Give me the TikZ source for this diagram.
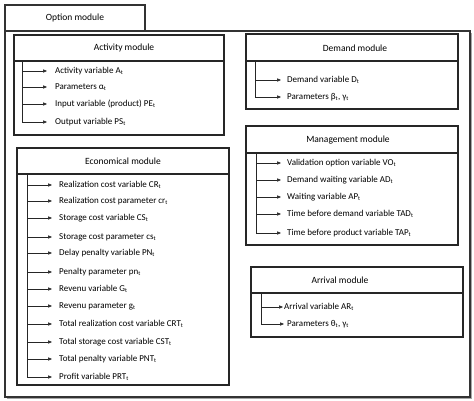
\documentclass[tikz,border=0pt]{standalone}
\usepackage{fontspec}
\setmainfont{Carlito}
\usetikzlibrary{arrows.meta}
\newcommand{\sbt}[1]{\textsubscript{#1}}
\tikzset{
  modbox/.style={draw=black!85, line width=1.1pt},
  outerbox/.style={draw=black!80, line width=1.1pt},
  modtitle/.style={inner sep=0pt, font=\fontsize{9.5}{11}\selectfont},
  item/.style={anchor=west, inner sep=0pt, font=\fontsize{9}{10.8}\selectfont},
  conn/.style={draw=black!85, line width=0.6pt, -{Triangle[length=4pt,width=3.2pt]}},
}
\begin{document}
\begin{tikzpicture}[x=1pt,y=-1pt]
\useasboundingbox (0,0) rectangle (474,401);
% outer option module
\fill[black!35] (7,33) rectangle (472,399);
\draw[outerbox, fill=white] (5,31) rectangle (470,397);
\draw[outerbox, fill=white] (5,5) rectangle (145,31);
\node[modtitle] (opt) at (75,18) {Option module};

% Activity module
\draw[modbox] (14,35) rectangle (224,135);
\draw[modbox] (14,61) -- (224,61);
\node[modtitle] (act) at (124,48) {Activity module};
\coordinate (acttop) at (22,61);
\node[item] (a1) at (55,71) {Activity variable A\sbt{t}};
\node[item] (a2) at (55,87) {Parameters α\sbt{t}};
\node[item] (a3) at (55,104) {Input variable (product) PE\sbt{t}};
\node[item] (a4) at (55,122) {Output variable PS\sbt{t}};
\foreach \n in {a1,a2,a3,a4} \draw[conn, shorten >=8pt] (acttop) |- (\n.west);

% Demand module
\draw[modbox] (246,34) rectangle (458,109);
\draw[modbox] (246,61) -- (458,61);
\node[modtitle] (dem) at (355,48) {Demand module};
\coordinate (demtop) at (255,61);
\node[item] (d1) at (287,80) {Demand variable D\sbt{t}};
\node[item] (d2) at (287,97) {Parameters β\sbt{t}, γ\sbt{t}};
\foreach \n in {d1,d2} \draw[conn, shorten >=6pt] (demtop) |- (\n.west);

% Management module
\draw[modbox] (246,126) rectangle (458,245);
\draw[modbox] (246,153) -- (458,153);
\node[modtitle] (man) at (348,140) {Management module};
\coordinate (mantop) at (256,153);
\node[item] (m1) at (287,163) {Validation option variable VO\sbt{t}};
\node[item] (m2) at (287,180) {Demand waiting variable AD\sbt{t}};
\node[item] (m3) at (287,197) {Waiting variable AP\sbt{t}};
\node[item] (m4) at (287,214) {Time before demand variable TAD\sbt{t}};
\node[item] (m5) at (287,233) {Time before product variable TAP\sbt{t}};
\foreach \n in {m1,m2,m3,m4,m5} \draw[conn, shorten >=6pt] (mantop) |- (\n.west);

% Economical module
\draw[modbox] (17,148) rectangle (229,385);
\draw[modbox] (17,174) -- (229,174);
\node[modtitle] (eco) at (123,161) {Economical module};
\coordinate (ecotop) at (27,174);
\node[item] (e1) at (59,185) {Realization cost variable CR\sbt{t}};
\node[item] (e2) at (59,201) {Realization cost parameter cr\sbt{t}};
\node[item] (e3) at (59,218) {Storage cost variable CS\sbt{t}};
\node[item] (e4) at (59,237) {Storage cost parameter cs\sbt{t}};
\node[item] (e5) at (59,253) {Delay penalty variable PN\sbt{t}};
\node[item] (e6) at (59,272) {Penalty parameter pn\sbt{t}};
\node[item] (e7) at (59,289) {Revenu variable G\sbt{t}};
\node[item] (e8) at (59,306) {Revenu parameter g\sbt{t}};
\node[item] (e9) at (59,324) {Total realization cost variable CRT\sbt{t}};
\node[item] (e10) at (59,342) {Total storage cost variable CST\sbt{t}};
\node[item] (e11) at (59,359) {Total penalty variable PNT\sbt{t}};
\node[item] (e12) at (59,377) {Profit variable PRT\sbt{t}};
\foreach \n in {e1,e2,e3,e4,e5,e6,e7,e8,e9,e10,e11,e12} \draw[conn, shorten >=7pt] (ecotop) |- (\n.west);

% Arrival module
\draw[modbox] (251,267) rectangle (463,337);
\draw[modbox] (251,293) -- (463,293);
\node[modtitle] (arr) at (340,280) {Arrival module};
\coordinate (arrtop) at (261,293);
\node[item] (r1) at (284,307) {Arrival variable AR\sbt{t}};
\node[item] (r2) at (287,324) {Parameters θ\sbt{t}, γ\sbt{t}};
\draw[conn, shorten >=1pt] (arrtop) |- (r1.west);
\draw[conn, shorten >=3pt] (arrtop) |- (r2.west);
\end{tikzpicture}
\end{document}
